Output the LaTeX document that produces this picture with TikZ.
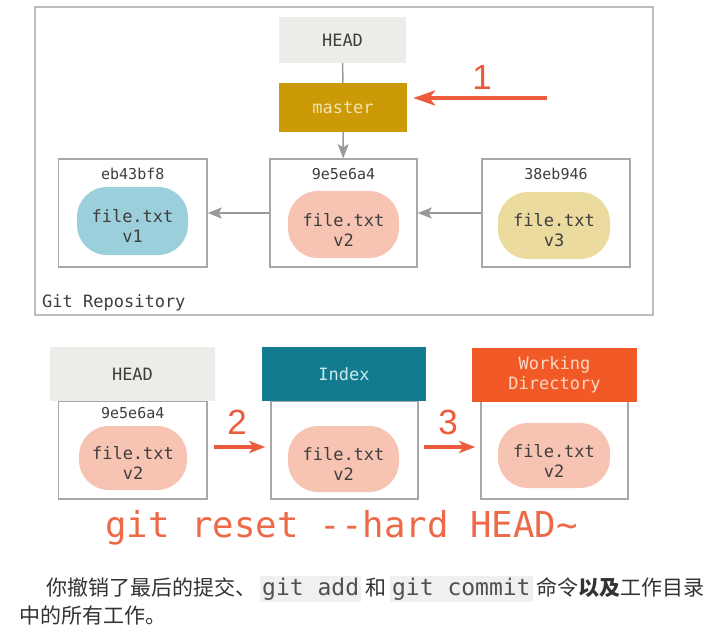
\documentclass[tikz,border=0pt]{standalone}
\usepackage{fontspec}
\setmainfont{DejaVu Sans}
\setmonofont{DejaVu Sans Mono}
\newfontfamily\cjk{Noto Sans CJK SC}
\newfontfamily\numfont{Liberation Sans}
\usetikzlibrary{arrows.meta}
\definecolor{boxline}{HTML}{A8A8A8}
\definecolor{repoline}{HTML}{BDBDBD}
\definecolor{headfill}{HTML}{EEECE8}
\definecolor{masterfill}{HTML}{CC9A06}
\definecolor{mastertext}{HTML}{F3E3B0}
\definecolor{blueblob}{HTML}{9CCFDC}
\definecolor{pinkblob}{HTML}{F7C3B3}
\definecolor{yellowblob}{HTML}{ECDB9F}
\definecolor{indexfill}{HTML}{137B90}
\definecolor{indextext}{HTML}{CBEBEF}
\definecolor{wdfill}{HTML}{F15A27}
\definecolor{wdtext}{HTML}{FCD8C4}
\definecolor{redarr}{HTML}{EB5B3C}
\definecolor{gittext}{HTML}{EC6A48}
\definecolor{darktext}{HTML}{3E3E3E}
\definecolor{arrowgray}{HTML}{999999}
\definecolor{codebg}{HTML}{F0F0F0}
\definecolor{codetext}{HTML}{505050}
\definecolor{zhtext}{HTML}{333333}
\newcommand\inlinecode[1]{\hspace{4pt}{\setlength{\fboxsep}{2pt}\colorbox{codebg}{\ttfamily\fontsize{23}{24}\selectfont\color{codetext}#1}}\hspace{4pt}}
\tikzset{
  diagfont/.style={font=\ttfamily\fontsize{17}{20}\selectfont},
  commitbox/.style={draw=boxline, line width=1.5pt, fill=white, inner sep=0pt},
  hashlabel/.style={font=\ttfamily\fontsize{15}{18}\selectfont, text=darktext, inner sep=0pt},
  blob/.style={rounded corners=30pt, inner sep=0pt},
  blobtext/.style={inner sep=0pt, align=center, diagfont, text=darktext},
  header/.style={inner sep=0pt, minimum height=54pt, align=center, diagfont},
  grayarrow/.style={draw=arrowgray, line width=1.5pt, -{Stealth[length=14pt, width=11pt, inset=3pt]}},
  grayline/.style={draw=arrowgray, line width=1.5pt},
  redarrow/.style={draw=redarr, line width=4pt, -{Stealth[length=22pt, width=15pt, inset=6pt]}},
  redarrowsmall/.style={draw=redarr, line width=3.5pt, -{Stealth[length=16pt, width=12pt, inset=4pt]}},
  numlabel/.style={font=\numfont\fontsize{35}{40}\selectfont, text=redarr, inner sep=0pt}
}
\begin{document}
\begin{tikzpicture}[x=1pt,y=-1pt]
\useasboundingbox (0,0) rectangle (717,640);
\fill[white] (0,0) rectangle (717,640);
% ---------- repository ----------
\node[draw=repoline, line width=2pt, minimum width=618pt, minimum height=308pt, inner sep=0pt] (repo) at (344,161) {};
\node[fill=headfill, minimum width=127pt, minimum height=46pt, inner sep=0pt, diagfont, text=darktext] (headT) at (342.5,40) {HEAD};
\node[fill=masterfill, minimum width=128pt, minimum height=49pt, inner sep=0pt, diagfont, text=mastertext] (master) at (343,107.5) {master};
\node[commitbox, minimum width=148.5pt, minimum height=108pt] (c1) at (132.75,213) {};
\node[commitbox, minimum width=147pt, minimum height=108pt] (c2) at (343.5,213) {};
\node[commitbox, minimum width=148pt, minimum height=108pt] (c3) at (556,213) {};
\node[hashlabel] (h1) at (132.75,174) {eb43bf8};
\node[hashlabel] (h2) at (343.5,174) {9e5e6a4};
\node[hashlabel] (h3) at (556,174) {38eb946};
\node[blob, fill=blueblob, minimum width=111pt, minimum height=68pt] (b1) at (132.5,221) {};
\node[blob, fill=pinkblob, minimum width=111pt, minimum height=67pt] (b2) at (343.5,224.5) {};
\node[blob, fill=yellowblob, minimum width=112pt, minimum height=67pt] (b3) at (554,225.5) {};
\node[blobtext] (t1) at ([yshift=-5pt]b1.center) {file.txt\\v1};
\node[blobtext] (t2) at ([yshift=-5pt]b2.center) {file.txt\\v2};
\node[blobtext] (t3) at ([yshift=-5pt]b3.center) {file.txt\\v3};
\draw[grayline] (headT) -- (master);
\draw[grayarrow] (master) -- (c2);
\draw[grayarrow] (c2) -- (c1);
\draw[grayarrow] (c3) -- (c2);
\coordinate (r1s) at (547,98);
\draw[redarrow] (r1s) -- ([xshift=6pt, yshift=9.5pt]master.east);
\node[numlabel] (n1) at (482,77) {1};
\node[anchor=west, diagfont, text=darktext, inner sep=0pt] (repolabel) at (42,303) {Git Repository};
% ---------- three trees ----------
\node[commitbox, minimum width=148.5pt, minimum height=98pt] (hbody) at (132.75,450) {};
\node[header, fill=headfill, minimum width=165pt, text=darktext] (hhead) at (132.5,374) {HEAD};
\node[commitbox, minimum width=147pt, minimum height=98pt] (ibody) at (344.5,450) {};
\node[header, fill=indexfill, minimum width=164pt, text=indextext] (ihead) at (344,374) {Index};
\node[commitbox, minimum width=147pt, minimum height=98pt] (wbody) at (554.5,450) {};
\node[header, fill=wdfill, minimum width=165pt, text=wdtext] (whead) at (554.5,375) {Working\\Directory};
\node[hashlabel] (h4) at (132.75,413) {9e5e6a4};
\node[blob, fill=pinkblob, minimum width=108pt, minimum height=64pt] (b4) at (133,458) {};
\node[blob, fill=pinkblob, minimum width=111pt, minimum height=66pt] (b5) at (343.5,459) {};
\node[blob, fill=pinkblob, minimum width=112pt, minimum height=65pt] (b6) at (554,455.5) {};
\node[blobtext] (t4) at ([yshift=-5pt]b4.center) {file.txt\\v2};
\node[blobtext] (t5) at ([yshift=-5pt]b5.center) {file.txt\\v2};
\node[blobtext] (t6) at ([yshift=-5pt]b6.center) {file.txt\\v2};
\draw[redarrowsmall, shorten <=6pt, shorten >=5pt] ([yshift=3pt]hbody.east) -- ([yshift=3pt]ibody.west);
\draw[redarrowsmall, shorten <=5pt, shorten >=5pt] ([yshift=3pt]ibody.east) -- ([yshift=3pt]wbody.west);
\node[numlabel] (n2) at (237,422) {2};
\node[numlabel] (n3) at (448,422) {3};
% ---------- command ----------
\node[anchor=base, font=\ttfamily\fontsize{35.7}{40}\selectfont, text=gittext, inner sep=0pt] (cmd) at (341.5,537) {git reset -{}-hard HEAD\string~};
% ---------- chinese text ----------
\node[anchor=base west, inner sep=0pt, text=zhtext, font=\cjk\fontsize{21}{24}\selectfont] (zh1) at (46,595) {你撤销了最后的提交、\inlinecode{git add}和\inlinecode{git commit}命令{\bfseries 以及}工作目录};
\node[anchor=base west, inner sep=0pt, text=zhtext, font=\cjk\fontsize{21}{24}\selectfont] (zh2) at (19,623) {中的所有工作。};
\end{tikzpicture}
\end{document}
